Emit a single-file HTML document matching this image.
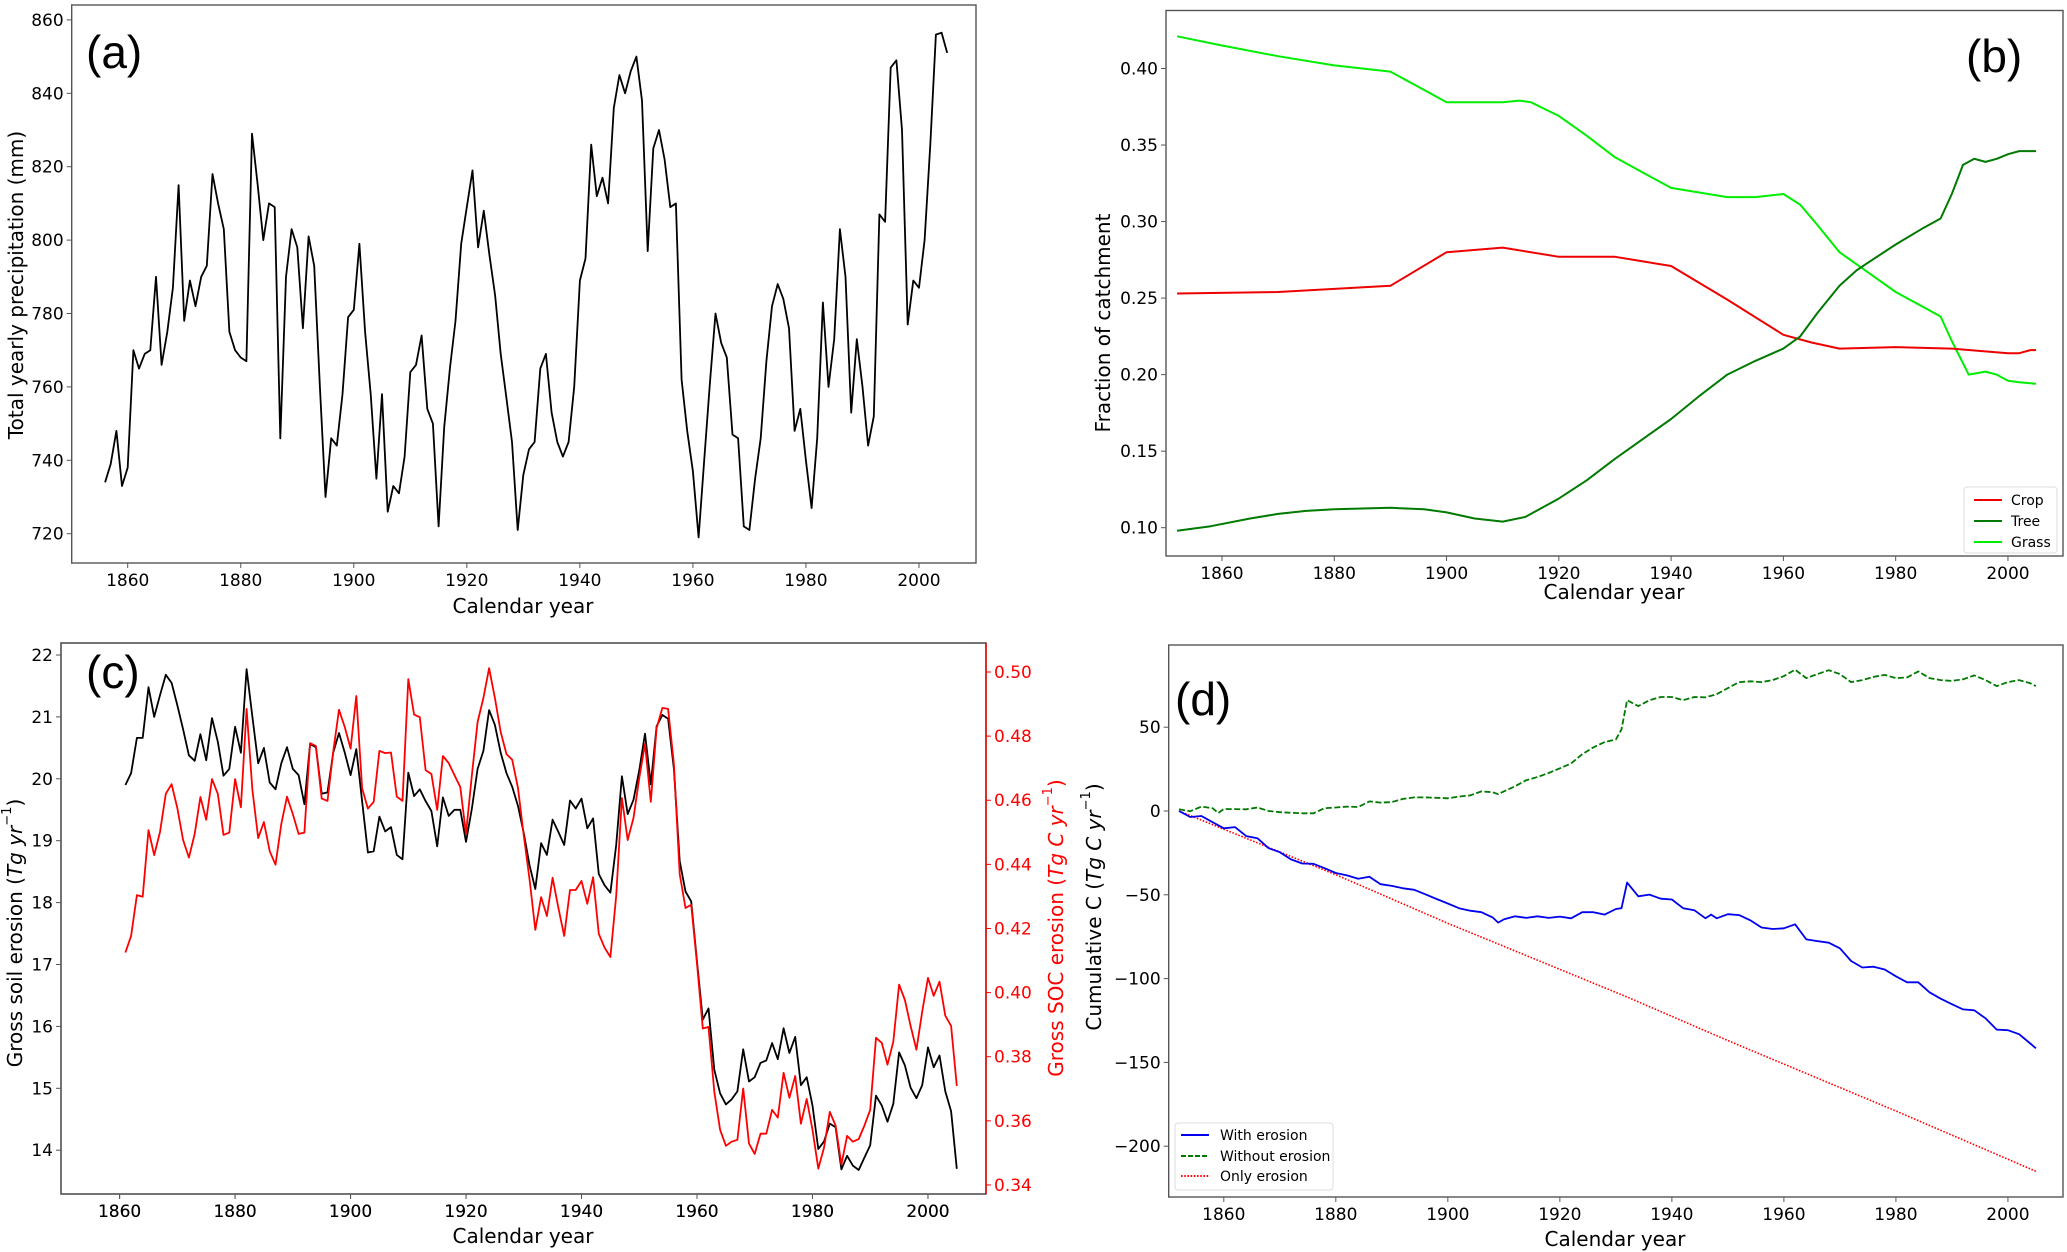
<!DOCTYPE html>
<html><head><meta charset="utf-8"><style>
html,body{margin:0;padding:0;background:#fff;}
svg{display:block;font-family:"DejaVu Sans","Liberation Sans",sans-serif;}
</style></head><body>
<svg id="fig" width="2067" height="1252" viewBox="0 0 2067 1252" xmlns="http://www.w3.org/2000/svg">
<rect width="2067" height="1252" fill="#fff"/>
<g id="layer"></g>
<text x="86" y="68" font-family="Liberation Sans, sans-serif" font-size="46">(a)</text>
<text x="1966" y="72" font-family="Liberation Sans, sans-serif" font-size="46">(b)</text>
<text x="86" y="688" font-family="Liberation Sans, sans-serif" font-size="46">(c)</text>
<text x="1175" y="715" font-family="Liberation Sans, sans-serif" font-size="46">(d)</text>
<text transform="translate(16,285) rotate(-90)" text-anchor="middle" dominant-baseline="central" font-size="20">Total yearly precipitation (mm)</text>
<text x="523" y="613" text-anchor="middle" font-size="20">Calendar year</text>
<text transform="translate(1103,323) rotate(-90)" text-anchor="middle" dominant-baseline="central" font-size="20">Fraction of catchment</text>
<text x="1614" y="599" text-anchor="middle" font-size="20">Calendar year</text>
<text transform="translate(15,933) rotate(-90)" text-anchor="middle" dominant-baseline="central" font-size="20">Gross soil erosion (<tspan font-style="italic">Tg yr</tspan><tspan font-size="13" dy="-8">−1</tspan><tspan dy="8">)</tspan></text>
<text transform="translate(1056,928) rotate(-90)" text-anchor="middle" dominant-baseline="central" font-size="20" fill="#ff0000">Gross SOC erosion (<tspan font-style="italic">Tg C yr</tspan><tspan font-size="13" dy="-8">−1</tspan><tspan dy="8">)</tspan></text>
<text x="523" y="1243" text-anchor="middle" font-size="20">Calendar year</text>
<text transform="translate(1094,907) rotate(-90)" text-anchor="middle" dominant-baseline="central" font-size="20">Cumulative C (<tspan font-style="italic">Tg C yr</tspan><tspan font-size="13" dy="-8">−1</tspan><tspan dy="8">)</tspan></text>
<text x="1615" y="1246" text-anchor="middle" font-size="20">Calendar year</text>
</svg>
<script>
// ---- data ----
const xTicks = [1860,1880,1900,1920,1940,1960,1980,2000];
const precipStart = 1856;
const precipValues = [734,739,748,733,738,770,765,769,770,790,766,775,787,815,778,789,782,790,793,818,810,803,775,770,768,767,829,815,800,810,809,746,790,803,798,776,801,793,760,730,746,744,758,779,781,799,775,758,735,758,726,733,731,741,764,766,774,754,750,722,749,765,778,799,809,819,798,808,796,785,769,757,745,721,736,743,745,765,769,753,745,741,745,760,789,795,826,812,817,810,836,845,840,846,850,838,797,825,830,822,809,810,762,748,737,719,740,761,780,772,768,747,746,722,721,735,746,767,782,788,784,776,748,754,740,727,746,783,760,773,803,790,753,773,760,744,752,807,805,847,849,830,777,789,787,800,826,856,856.5,851];
const precipTicks = [720,740,760,780,800,820,840,860];

const grassYears = [1852,1860,1870,1880,1890,1895,1900,1905,1910,1913,1915,1920,1925,1930,1935,1940,1945,1950,1955,1960,1963,1966,1970,1975,1980,1985,1988,1990,1993,1996,1998,2000,2002,2005];
const grassValues = [.421,.415,.408,.402,.398,.388,.378,.378,.378,.379,.378,.369,.356,.342,.332,.322,.319,.316,.316,.318,.311,.298,.280,.267,.254,.244,.238,.222,.200,.202,.200,.196,.195,.194];
const cropYears = [1852,1870,1880,1890,1900,1910,1920,1930,1935,1940,1950,1960,1965,1970,1980,1990,2000,2002,2004,2005];
const cropValues = [.253,.254,.256,.258,.280,.283,.277,.277,.274,.271,.249,.226,.221,.217,.218,.217,.214,.214,.216,.216];
const treeYears = [1852,1858,1865,1870,1875,1880,1890,1896,1900,1905,1910,1914,1920,1925,1930,1935,1940,1945,1950,1955,1960,1963,1966,1970,1973,1975,1980,1985,1988,1990,1992,1994,1996,1998,2000,2002,2005];
const treeValues = [.098,.101,.106,.109,.111,.112,.113,.112,.110,.106,.104,.107,.119,.131,.145,.158,.171,.186,.200,.209,.217,.225,.240,.258,.268,.273,.285,.296,.302,.318,.337,.341,.339,.341,.344,.346,.346];
const fracTicks = [0.10,0.15,0.20,0.25,0.30,0.35,0.40];

const erosionStart = 1861;
const soilValues = [19.90,20.09,20.66,20.66,21.48,21.0,21.35,21.68,21.55,21.19,20.8,20.38,20.29,20.72,20.3,20.98,20.6,20.05,20.16,20.84,20.42,21.77,21.0,20.25,20.5,19.94,19.83,20.25,20.51,20.16,20.06,19.59,20.56,20.51,19.76,19.78,20.42,20.74,20.42,20.06,20.48,19.64,18.81,18.83,19.39,19.15,19.22,18.77,18.7,20.1,19.72,19.83,19.64,19.48,18.91,19.7,19.4,19.5,19.5,18.98,19.51,20.16,20.45,21.11,20.87,20.42,20.09,19.87,19.56,19.12,18.6,18.22,18.96,18.77,19.34,19.14,18.93,19.65,19.52,19.68,19.2,19.36,18.46,18.28,18.16,18.93,20.04,19.43,19.66,20.14,20.73,19.91,20.85,21.03,20.97,20.16,18.67,18.18,18.02,17.05,16.11,16.29,15.3,14.92,14.74,14.82,14.95,15.63,15.11,15.18,15.41,15.45,15.73,15.47,15.97,15.57,15.83,15.05,15.18,14.72,14.02,14.14,14.43,14.37,13.69,13.91,13.75,13.68,13.88,14.08,14.88,14.72,14.46,14.75,15.58,15.37,15.01,14.84,15.05,15.66,15.34,15.53,14.95,14.63,13.70];
const socValues = [.4125,.4177,.4304,.4299,.4507,.4429,.4501,.462,.465,.4576,.4476,.4421,.4495,.461,.4539,.4666,.462,.4492,.4499,.4666,.4578,.4885,.4632,.4482,.4532,.4441,.4399,.4526,.4611,.4557,.4495,.4499,.4778,.4769,.4605,.4598,.4751,.4882,.4828,.4761,.4925,.4638,.4574,.4595,.4754,.4747,.4749,.4611,.4598,.4978,.4867,.4859,.4694,.4682,.457,.4738,.4716,.4678,.4641,.4495,.4676,.4844,.4919,.5012,.4919,.4813,.4744,.4726,.4638,.4489,.4352,.4196,.4298,.4239,.4358,.4264,.4177,.432,.432,.4348,.4277,.436,.4183,.414,.4111,.4302,.4607,.4476,.4545,.467,.4776,.4595,.4825,.4888,.4885,.4713,.437,.4264,.4274,.409,.3888,.3893,.3691,.3572,.3522,.3535,.3541,.3701,.3529,.3497,.356,.356,.3634,.361,.375,.3672,.374,.3591,.3668,.3572,.3451,.3516,.3628,.3585,.3464,.3553,.3535,.3543,.3585,.3634,.3859,.3843,.3775,.3847,.4025,.3977,.3896,.3822,.394,.4046,.399,.4034,.3928,.3896,.3709];
const soilTicks = [14,15,16,17,18,19,20,21,22];
const socTicks = [0.34,0.36,0.38,0.40,0.42,0.44,0.46,0.48,0.50];

const withYears = [1852,1854,1856,1858,1860,1862,1864,1866,1868,1870,1872,1874,1876,1878,1880,1882,1884,1886,1888,1890,1892,1894,1896,1898,1900,1902,1904,1906,1908,1909,1910,1912,1914,1916,1918,1920,1922,1924,1926,1928,1930,1931,1932,1934,1936,1938,1940,1942,1944,1946,1947,1948,1950,1952,1954,1956,1958,1960,1962,1964,1966,1968,1970,1972,1974,1976,1978,1980,1982,1984,1986,1988,1990,1992,1994,1996,1998,2000,2002,2004,2005];
const withValues = [0,-3.6,-3,-6.7,-10.3,-9.6,-15,-16.2,-22.2,-24.6,-28.9,-31.3,-31.5,-34.1,-37,-38.4,-40.4,-39.2,-43.7,-44.7,-46.1,-47,-49.7,-52.5,-55.2,-58,-59.5,-60.4,-63.5,-66.6,-64.7,-62.8,-63.8,-62.8,-63.8,-63,-64,-60.4,-60.4,-61.8,-58.5,-58,-42.7,-50.9,-49.9,-52.3,-52.8,-58,-59.2,-64,-61.8,-64,-61.6,-62.1,-65.2,-69.5,-70.4,-70,-67.6,-76.6,-77.6,-78.6,-81.9,-89.5,-93.4,-92.9,-94.6,-98.6,-102.2,-102.2,-108.2,-112,-115.3,-118.4,-118.9,-123.7,-130.4,-130.8,-133.2,-138.7,-141.6];
const withoutYears = [1852,1854,1856,1858,1859,1860,1864,1866,1868,1870,1874,1876,1878,1880,1882,1884,1886,1888,1890,1892,1894,1896,1898,1900,1902,1904,1906,1908,1909,1910,1912,1914,1916,1918,1920,1922,1924,1926,1928,1930,1931,1932,1934,1936,1938,1940,1942,1944,1946,1948,1950,1952,1954,1956,1958,1960,1962,1964,1966,1968,1970,1972,1974,1976,1978,1980,1982,1984,1986,1988,1990,1992,1994,1996,1998,2000,2002,2004,2005];
const withoutValues = [1,-0.2,2.6,1.7,-1.2,1.2,1,2.1,0,-0.7,-1.4,-1.4,1.7,2.1,2.6,2.4,5.7,5,5.3,7.2,8.1,8.1,7.9,7.6,8.6,9.3,11.7,11.2,10,11.7,14.8,18.4,20.3,22.7,25.5,28.4,33.9,38,41.1,42.7,48.7,66.1,62.6,66.1,68,68,66.1,68,67.8,69.7,73.3,76.9,77.4,76.9,78.1,80.5,84.3,79.3,81.7,84,81.7,76.9,78.1,80,81.2,79.3,79.7,83.3,79.3,78.1,77.6,78.6,80.9,78.1,74.5,76.9,78.1,76.2,74.5];
const onlyYears = [1852,1880,1900,1932,1950,1980,2005];
const onlyValues = [0,-38,-67,-111,-137,-179,-215];
const cumTicks = [-200,-150,-100,-50,0,50];

// ---- axis functions ----
const P = {
  a:{l:71.7,r:976,t:5,b:563,x:Y=>127.7+(Y-1860)*5.652,y:v=>533.7-(v-720)*3.67},
  b:{l:1166,r:2063,t:10.5,b:556,x:Y=>1222+(Y-1860)*5.614,y:v=>527.7-(v-0.10)*1530.7},
  c:{l:61,r:986,t:643,b:1194,x:Y=>119.6+(Y-1860)*5.774,y:v=>655+(22-v)*61.9,y2:v=>672+(0.50-v)*3206},
  d:{l:1168.7,r:2063,t:645,b:1197,x:Y=>1223.8+(Y-1860)*5.601,y:v=>811-v*1.676}
};
const NS='http://www.w3.org/2000/svg';
const layer=document.getElementById('layer');
function mk(tag,attrs,parent){const e=document.createElementNS(NS,tag);for(const k in attrs)e.setAttribute(k,attrs[k]);(parent||layer).appendChild(e);return e;}
function fmt(v,d){return (v<0?'−':'')+Math.abs(v).toFixed(d);}

function axes(key,yTicks,dec,yfn,right,color){
  const p=P[key];
  const fr=mk('rect',{x:p.l,y:p.t,width:p.r-p.l,height:p.b-p.t,fill:'none',stroke:'#555','stroke-width':1.4});
  
  
  xTicks.forEach(Y=>{
    const x=p.x(Y);
    const t=mk('line',{x1:x,x2:x,y1:p.b,y2:p.b+5,stroke:'#555','stroke-width':1});
    
    
    const tx=mk('text',{x:x,y:p.b+23,'text-anchor':'middle','font-size':17});
    
    
    tx.textContent=Y;
  });
  yTicks.forEach(v=>{
    const y=(yfn||p.y)(v);
    const xa=right?p.r:p.l;
    const t=mk('line',{x1:xa,x2:right?xa+5:xa-5,y1:y,y2:y,stroke:color||'#555','stroke-width':1});
    
    
    const tx=mk('text',{x:right?xa+8:xa-8,y:y+6,'text-anchor':right?'start':'end','font-size':17,fill:color||'#000'});
    
    
    tx.textContent=fmt(v,dec);
  });
}
function line(key,years,vals,color,w,dash,name,yfn){
  const p=P[key];const f=yfn||p.y;
  const d=years.map((Y,i)=>(i?'L':'M')+p.x(Y).toFixed(1)+','+f(vals[i]).toFixed(1)).join('');
  const e=mk('path',{d:d,fill:'none',stroke:color,'stroke-width':w,'stroke-linejoin':'round'});
  if(dash)e.setAttribute('stroke-dasharray',dash);
  
  
}
function seq(start,n){return Array.from({length:n},(_,i)=>start+i);}

// panel a
axes('a',precipTicks,0);
line('a',seq(precipStart,precipValues.length),precipValues,'#000',1.8,null,'precipitation-line');
// panel b
axes('b',fracTicks,2);
line('b',grassYears,grassValues,'#00ee00',2,null,'grass-line');
line('b',cropYears,cropValues,'#ee0000',2,null,'crop-line');
line('b',treeYears,treeValues,'#007a00',2,null,'tree-line');
// panel c
axes('c',soilTicks,0);
axes('c',socTicks,2,P.c.y2,true,'#ff0000');
const sp=mk('line',{x1:P.c.r,x2:P.c.r,y1:P.c.t,y2:P.c.b,stroke:'#ff0000','stroke-width':1.4});


line('c',seq(erosionStart,soilValues.length),soilValues,'#000',1.8,null,'soil-erosion-line');
line('c',seq(erosionStart,socValues.length),socValues,'#ff0000',1.8,null,'soc-erosion-line',P.c.y2);
// panel d
axes('d',cumTicks,0);
line('d',onlyYears,onlyValues,'#ff0000',1.6,'1.6,1.6','only-erosion-line');
line('d',withoutYears,withoutValues,'#007a00',1.8,'6,2.5','without-erosion-line');
line('d',withYears,withValues,'#0000ee',1.8,null,'with-erosion-line');

// legends
function legend(name,x,y,w,h,entries,lx,tx,rowY){
  const g=mk('g',{});
  
  
  mk('rect',{x:x,y:y,width:w,height:h,rx:3,fill:'#fff',stroke:'#ddd','stroke-width':1},g);
  entries.forEach((en,i)=>{
    const yy=rowY[i];
    const l=mk('line',{x1:lx,x2:lx+28,y1:yy,y2:yy,stroke:en[1],'stroke-width':2},g);
    if(en[2])l.setAttribute('stroke-dasharray',en[2]);
    
    
    const t=mk('text',{x:tx,y:yy+5,'font-size':14},g);
    
    
    t.textContent=en[0];
  });
}
legend('legend-b',1964,487,93,66,[['Crop','#ee0000'],['Tree','#007a00'],['Grass','#00ee00']],1974,2011,[500,521,542]);
legend('legend-d',1175,1123,158,67,[['With erosion','#0000ee'],['Without erosion','#007a00','5,2'],['Only erosion','#ff0000','1.6,1.6']],1181,1220,[1135,1156,1176]);
</script>
</body></html>
